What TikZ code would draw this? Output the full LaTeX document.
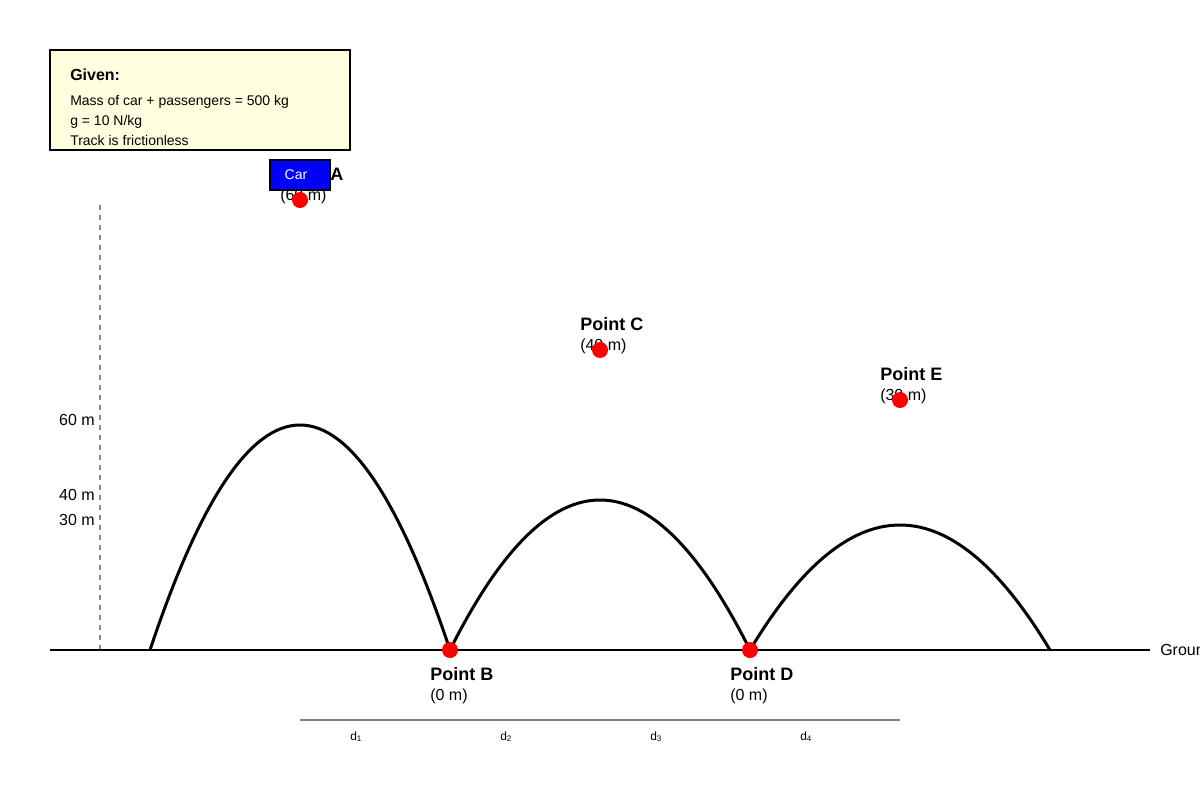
\documentclass[tikz,border=0pt]{standalone}
\usepackage{fontspec}
\setmainfont{Liberation Sans}
\usetikzlibrary{calc}
\begin{document}
\begin{tikzpicture}[x=0.75pt,y=-0.75pt,
  lbl/.style={anchor=base west,inner sep=0pt,font=\fontsize{12}{14}\selectfont},
  blbl/.style={lbl,font=\fontsize{12}{14}\selectfont\bfseries},
  plbl/.style={lbl,font=\fontsize{13.5}{15}\selectfont\bfseries},
  small/.style={anchor=base west,inner sep=0pt,font=\fontsize{10.5}{12}\selectfont},
  tick/.style={anchor=base east,inner sep=0pt,font=\fontsize{12}{14}\selectfont},
  dlbl/.style={anchor=base west,inner sep=0pt,font=\fontsize{9}{10}\selectfont},
  dot/.style={circle,fill=red,inner sep=0pt,minimum size=12pt},
  track/.style={line width=2.25pt,black},
  groundline/.style={line width=1.5pt,black}]
\useasboundingbox (0,0) rectangle (1200,800);
% Given box
\node[draw=black,line width=1.5pt,fill={rgb,255:red,255;green,255;blue,224},minimum width=225pt,minimum height=75pt,inner sep=0pt] (given) at (200,100) {};
\node[blbl] (gtitle) at (70,80) {Given:};
\node[small] (g1) at (70,105) {Mass of car + passengers = 500 kg};
\node[small] (g2) at (70,125) {g = 10 N/kg};
\node[small] (g3) at (70,145) {Track is frictionless};
% reference axis
\coordinate (axtop) at (100,205);
\coordinate (axbot) at (100,650);
\draw[black!45,line width=1.5pt,dash pattern=on 3.75pt off 3.75pt] (axtop) -- (axbot);
\node[tick] (t60) at (95,425) {60 m};
\node[tick] (t40) at (95,500) {40 m};
\node[tick] (t30) at (95,525) {30 m};
% track
\coordinate (s0) at (150,650);
\coordinate (B) at (450,650);
\coordinate (D) at (750,650);
\coordinate (s4) at (1050,650);
\coordinate (A) at (300,200);
\coordinate (C) at (600,350);
\coordinate (E) at (900,400);
\draw[track] (s0) .. controls ($(s0)!0.6667!(A)$) and ($(B)!0.6667!(A)$) .. (B);
\draw[track] (B) .. controls ($(B)!0.6667!(C)$) and ($(D)!0.6667!(C)$) .. (D);
\draw[track] (D) .. controls ($(D)!0.6667!(E)$) and ($(s4)!0.6667!(E)$) .. (s4);
% ground
\coordinate (g0) at (50,650);
\coordinate (g1e) at (1150,650);
\draw[groundline] (g0) -- (g1e);
\node[lbl] (ground) at (1160,655) {Ground};
% labels
\node[plbl] (pA) at (280,180) {Point A};
\node[lbl] (hA) at (280,200) {(60 m)};
\node[plbl] (pC) at (580,330) {Point C};
\node[lbl] (hC) at (580,350) {(40 m)};
\node[plbl] (pE) at (880,380) {Point E};
\node[lbl] (hE) at (880,400) {(30 m)};
\node[plbl] (pB) at (430,680) {Point B};
\node[lbl] (hB) at (430,700) {(0 m)};
\node[plbl] (pD) at (730,680) {Point D};
\node[lbl] (hD) at (730,700) {(0 m)};
% dots
\node[dot] (dA) at (A) {};
\node[dot] (dB) at (B) {};
\node[dot] (dC) at (C) {};
\node[dot] (dD) at (D) {};
\node[dot] (dE) at (E) {};
% car
\node[draw=black,line width=1.5pt,fill={rgb,255:red,0;green,0;blue,255},minimum width=45pt,minimum height=22.5pt,inner sep=0pt] (car) at (300,175) {};
\node[text=white,inner sep=0pt,font=\fontsize{10.5}{12}\selectfont] (cartext) at (296,175) {Car};
% distance line
\coordinate (l0) at (300,720);
\coordinate (l1) at (900,720);
\draw[black!50,line width=1.5pt] (l0) -- (l1);
\node[dlbl] (d1) at (350,740) {d\textsubscript{1}};
\node[dlbl] (d2) at (500,740) {d\textsubscript{2}};
\node[dlbl] (d3) at (650,740) {d\textsubscript{3}};
\node[dlbl] (d4) at (800,740) {d\textsubscript{4}};
\end{tikzpicture}
\end{document}
